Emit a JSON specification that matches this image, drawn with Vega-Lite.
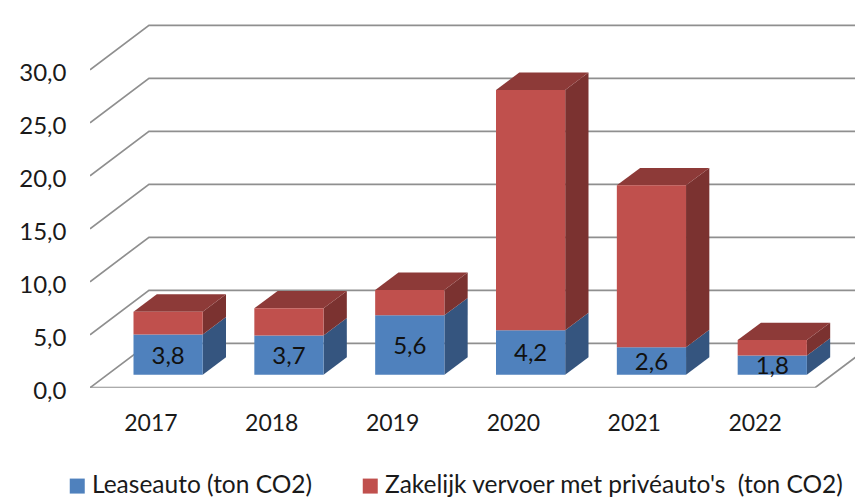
{
  "$schema": "https://vega.github.io/schema/vega-lite/v6.json",
  "width": 765,
  "height": 371,
  "padding": {"left": 90, "top": 16.7, "right": 0, "bottom": 109.3},
  "autosize": {"type": "none"},
  "background": "white",
  "config": {"view": {"stroke": null}, "font": "Lato"},
  "datasets": {
    "bars": [
      {"year": 2017, "series": "Leaseauto (ton CO2)", "value": 3.8},
      {"year": 2017, "series": "Zakelijk vervoer met privéauto's \u00a0(ton CO2)", "value": 2.15},
      {"year": 2018, "series": "Leaseauto (ton CO2)", "value": 3.7},
      {"year": 2018, "series": "Zakelijk vervoer met privéauto's \u00a0(ton CO2)", "value": 2.56},
      {"year": 2019, "series": "Leaseauto (ton CO2)", "value": 5.6},
      {"year": 2019, "series": "Zakelijk vervoer met privéauto's \u00a0(ton CO2)", "value": 2.4},
      {"year": 2020, "series": "Leaseauto (ton CO2)", "value": 4.2},
      {"year": 2020, "series": "Zakelijk vervoer met privéauto's \u00a0(ton CO2)", "value": 22.66},
      {"year": 2021, "series": "Leaseauto (ton CO2)", "value": 2.6},
      {"year": 2021, "series": "Zakelijk vervoer met privéauto's \u00a0(ton CO2)", "value": 15.27},
      {"year": 2022, "series": "Leaseauto (ton CO2)", "value": 1.8},
      {"year": 2022, "series": "Zakelijk vervoer met privéauto's \u00a0(ton CO2)", "value": 1.47}
    ],
    "levels": [{"level": 0}, {"level": 5}, {"level": 10}, {"level": 15}, {"level": 20}, {"level": 25}, {"level": 30}]
  },
  "resolve": {"scale": {"color": "independent"}},
  "layer": [
    {
      "data": {"name": "levels"},
      "transform": [
        {"calculate": "[0,1,2]", "as": "c"},
        {"flatten": ["c"]},
        {"calculate": "datum.c==0?2016.5:(datum.c==1?2016.988:2022.988)", "as": "px"},
        {"calculate": "datum.level+(datum.c==0?0:4.19)", "as": "py"}
      ],
      "mark": {"type": "line", "color": "#8f8f8f", "strokeWidth": 1.7, "clip": true},
      "encoding": {
        "x": {"field": "px", "type": "quantitative", "scale": {"domain": [2016.5, 2022.831], "nice": false, "zero": false},
          "axis": {"values": [2017, 2018, 2019, 2020, 2021, 2022], "format": "d", "title": null, "grid": false, "ticks": false, "domain": false, "labelPadding": 25, "labelFontSize": 23, "labelColor": "#1a1a1a", "labelFlush": false, "labelOverlap": false}},
        "y": {"field": "py", "type": "quantitative", "scale": {"domain": [0, 35], "nice": false},
          "axis": {"values": [0, 5, 10, 15, 20, 25, 30], "labelExpr": "replace(format(datum.value,'.1f'),'.',',')", "title": null, "grid": false, "ticks": false, "domain": false, "labelPadding": 24, "labelFontSize": 24, "labelColor": "#1a1a1a", "labelOffset": 4, "labelOverlap": false, "labelFlush": false}},
        "detail": {"field": "level"},
        "order": {"field": "c"}
      }
    },
    {
      "data": {"name": "levels"},
      "transform": [
        {"filter": "datum.level==0"},
        {"calculate": "[0,1,2]", "as": "c"},
        {"flatten": ["c"]},
        {"calculate": "datum.c==0?2016.5:(datum.c==1?2022.5:2022.988)", "as": "px"},
        {"calculate": "datum.c==2?4.19:0", "as": "py"}
      ],
      "mark": {"type": "line", "color": "#8f8f8f", "strokeWidth": 1.7, "clip": true},
      "encoding": {
        "x": {"field": "px", "type": "quantitative"},
        "y": {"field": "py", "type": "quantitative"},
        "order": {"field": "c"}
      }
    },
    {
      "data": {"name": "bars"},
      "transform": [
        {"stack": "value", "groupby": ["year"], "sort": [{"field": "series", "order": "ascending"}], "as": ["v0", "v1"]},
        {"calculate": "datum.year-0.14", "as": "xl"},
        {"calculate": "datum.year-0.14+0.5727", "as": "xr"},
        {"calculate": "datum.v0+1.226", "as": "b"},
        {"calculate": "datum.v1+1.226", "as": "t"}
      ],
      "resolve": {"scale": {"color": "independent"}},
      "layer": [
        {
          "transform": [
            {"calculate": "[0,1]", "as": "c"},
            {"flatten": ["c"]},
            {"calculate": "datum.xr+datum.c*0.1928", "as": "sx"},
            {"calculate": "datum.b+datum.c*1.64", "as": "sb"},
            {"calculate": "datum.t+datum.c*1.64", "as": "st"}
          ],
          "mark": {"type": "area", "line": false},
          "encoding": {
            "x": {"field": "sx", "type": "quantitative"},
            "y": {"field": "sb", "type": "quantitative", "stack": null},
            "y2": {"field": "st"},
            "detail": {"field": "year"},
            "color": {"field": "series", "type": "nominal", "legend": null, "scale": {"domain": ["Leaseauto (ton CO2)", "Zakelijk vervoer met privéauto's \u00a0(ton CO2)"], "range": ["#35557f", "#7b3230"]}}
          }
        },
        {
          "transform": [
            {"filter": "datum.series!='Leaseauto (ton CO2)'"},
            {"calculate": "[0,1,2,3]", "as": "c"},
            {"flatten": ["c"]},
            {"calculate": "datum.c==0?datum.xl:(datum.c==1?datum.xl+0.1928:(datum.c==2?datum.xr:datum.xr+0.1928))", "as": "tx"},
            {"calculate": "datum.c==0?datum.t:datum.t+1.64", "as": "ty"},
            {"calculate": "datum.c==3?datum.t+1.64:datum.t", "as": "ty2"}
          ],
          "mark": {"type": "area", "line": false, "color": "#8d3a38"},
          "encoding": {
            "x": {"field": "tx", "type": "quantitative"},
            "y": {"field": "ty", "type": "quantitative", "stack": null},
            "y2": {"field": "ty2"},
            "detail": {"field": "year"}
          }
        },
        {
          "mark": {"type": "rect"},
          "encoding": {
            "x": {"field": "xl", "type": "quantitative"},
            "x2": {"field": "xr"},
            "y": {"field": "b", "type": "quantitative"},
            "y2": {"field": "t"},
            "color": {"field": "series", "type": "nominal", "scale": {"domain": ["Leaseauto (ton CO2)", "Zakelijk vervoer met privéauto's \u00a0(ton CO2)"], "range": ["#4f81bd", "#c0504d"]},
              "legend": {"title": null, "orient": "none", "legendX": -25, "legendY": 457, "direction": "horizontal", "columns": 2, "symbolType": "square", "symbolSize": 225, "symbolStrokeWidth": 0, "labelFontSize": 24.5, "labelColor": "#1a1a1a", "labelLimit": 700, "labelOffset": 2.5, "columnPadding": 45, "padding": 0}}
          }
        },
        {
          "transform": [
            {"filter": "datum.series=='Leaseauto (ton CO2)'"},
            {"calculate": "(datum.xl+datum.xr)/2", "as": "cx"},
            {"calculate": "(datum.b+datum.t)/2", "as": "cy"},
            {"calculate": "replace(format(datum.value,'.1f'),'.',',')", "as": "lab"}
          ],
          "mark": {"type": "text", "fontSize": 24, "color": "#111111", "dy": 2},
          "encoding": {
            "x": {"field": "cx", "type": "quantitative"},
            "y": {"field": "cy", "type": "quantitative"},
            "text": {"field": "lab"}
          }
        }
      ]
    }
  ]
}
